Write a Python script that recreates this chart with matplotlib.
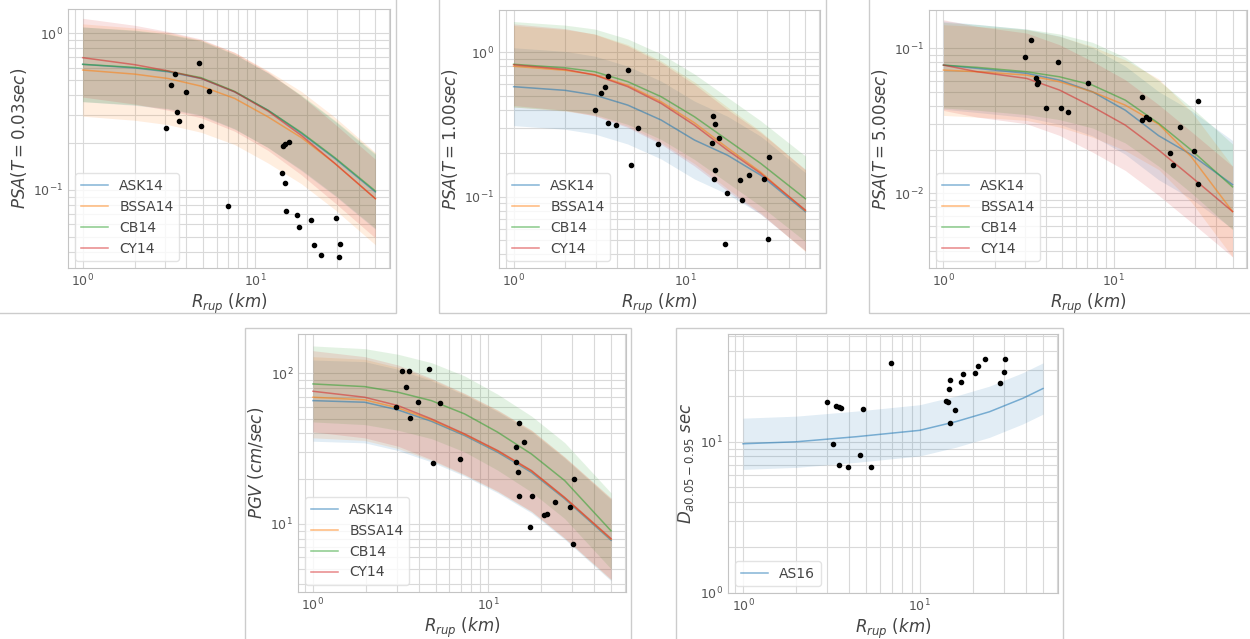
#!/usr/bin/env python
# coding: utf-8

r"""GMM medians (+/- 1 sigma) against recorded intensity measures vs Rrup"""

import numpy as np
import matplotlib.pyplot as plt
from matplotlib.patches import Rectangle

W, H = 1250, 639

models = ['ASK14', 'BSSA14', 'CB14', 'CY14']
colors = ['tab:blue', 'tab:orange', 'tab:green', 'tab:red']

# ---- PSA T = 0.03 s ----
r_psa003 = [1, 2, 3.12, 4.87, 7.62, 11.9, 18.6, 29.1, 50]
psa003_ask = [0.633, 0.600, 0.567, 0.514, 0.422, 0.322, 0.229, 0.158, 0.0966]
psa003_bssa = [0.582, 0.548, 0.514, 0.459, 0.383, 0.292, 0.215, 0.147, 0.0875]
psa003_cb = [0.633, 0.605, 0.572, 0.520, 0.425, 0.322, 0.232, 0.160, 0.098]
psa003_cy = [0.698, 0.630, 0.575, 0.514, 0.422, 0.318, 0.222, 0.147, 0.0875]
psa003_sigma = [0.55, 0.68, 0.55, 0.58]
obs003_r = [4.72, 3.45, 3.27, 3.98, 5.40, 3.54, 3.61, 3.03, 4.89, 14.6, 14.9, 15.8,
            14.4, 14.9, 7.02, 15.2, 17.5, 17.9, 21.1, 29.5, 21.9, 31.3, 24.3, 30.6]
obs003_v = [0.642, 0.549, 0.469, 0.419, 0.425, 0.315, 0.274, 0.247, 0.256, 0.191, 0.197, 0.202,
            0.128, 0.110, 0.079, 0.073, 0.069, 0.058, 0.064, 0.066, 0.044, 0.045, 0.038, 0.037]

# ---- PSA T = 1.00 s ----
r_psa100 = [1, 2, 2.96, 4.62, 7.22, 11.3, 17.6, 27.5, 50]
psa100_ask = [0.578, 0.545, 0.506, 0.431, 0.340, 0.247, 0.194, 0.141, 0.079]
psa100_bssa = [0.80, 0.75, 0.70, 0.59, 0.455, 0.325, 0.218, 0.148, 0.080]
psa100_cb = [0.826, 0.78, 0.734, 0.626, 0.493, 0.358, 0.247, 0.170, 0.097]
psa100_cy = [0.82, 0.76, 0.696, 0.578, 0.443, 0.313, 0.210, 0.145, 0.081]
psa100_sigma = [0.62, 0.65, 0.68, 0.65]
obs100_r = [3.54, 4.62, 3.41, 3.23, 2.98, 3.54, 3.92, 5.28, 6.90, 4.83, 14.4, 14.9,
            15.8, 14.3, 14.9, 14.6, 30.5, 20.8, 23.6, 28.8, 17.5, 21.3, 17.1, 30.1]
obs100_v = [0.685, 0.755, 0.573, 0.520, 0.398, 0.322, 0.312, 0.301, 0.231, 0.167, 0.364, 0.319,
            0.256, 0.234, 0.153, 0.133, 0.188, 0.130, 0.141, 0.133, 0.107, 0.095, 0.047, 0.051]

# ---- PSA T = 5.00 s ----
r_psa500 = [1, 1.58, 3.08, 4.81, 7.51, 11.7, 18.4, 28.6, 50]
psa500_ask = [0.0767, 0.0728, 0.0673, 0.0604, 0.0502, 0.0375, 0.0250, 0.0185, 0.0115]
psa500_bssa = [0.0709, 0.0690, 0.0655, 0.0589, 0.0502, 0.0406, 0.0300, 0.0179, 0.0075]
psa500_cb = [0.0767, 0.0740, 0.0690, 0.0637, 0.0558, 0.0440, 0.0304, 0.0199, 0.0111]
psa500_cy = [0.0767, 0.0690, 0.0621, 0.0516, 0.0396, 0.0296, 0.0199, 0.0130, 0.0075]
psa500_sigma = [0.70, 0.72, 0.68, 0.72]
obs500_r = [3.26, 3.01, 4.69, 3.49, 3.60, 3.54, 7.03, 4.00, 4.90, 5.41,
            14.7, 15.4, 16.2, 14.7, 31.5, 24.5, 21.4, 29.8, 22.4, 31.2]
obs500_v = [0.115, 0.0867, 0.0809, 0.0621, 0.0589, 0.0565, 0.058, 0.039, 0.0386, 0.0362,
            0.0464, 0.0338, 0.0326, 0.032, 0.0434, 0.0286, 0.0189, 0.0197, 0.0157, 0.0116]

# ---- PGV ----
r_pgv = [1, 1.97, 3.05, 4.73, 7.32, 11.3, 17.6, 27.2, 50]
pgv_ask = [65.8, 64.2, 57.1, 48.0, 38.6, 29.9, 22.0, 14.7, 7.8]
pgv_bssa = [69.3, 66.6, 58.9, 49.0, 39.2, 30.4, 22.4, 14.9, 7.9]
pgv_cb = [84.9, 81.5, 74.8, 65.8, 53.7, 40.6, 29.1, 19.4, 9.0]
pgv_cy = [75.9, 69.3, 61.0, 49.8, 39.6, 30.7, 22.6, 15.0, 8.0]
pgv_sigma = [0.62, 0.62, 0.58, 0.62]
obspgv_r = [3.22, 3.51, 4.61, 3.39, 3.95, 5.32, 2.96, 3.57, 4.81, 6.92, 14.9, 15.9,
            14.4, 14.3, 14.7, 15.0, 17.7, 30.9, 23.9, 29.0, 20.7, 21.5, 17.3, 30.3]
obspgv_v = [104, 104, 107, 80.7, 64.9, 63.0, 59.4, 50.8, 25.5, 27.0, 46.6, 35.0,
            32.3, 25.7, 22.2, 15.4, 15.4, 19.9, 13.9, 12.9, 11.5, 11.6, 9.6, 7.4]

# ---- significant duration D5-95 ----
r_dur = [1, 2, 4.38, 10, 16.1, 24.9, 38.5, 50]
dur_as16 = [9.7, 10.0, 10.8, 11.9, 13.6, 15.8, 19.4, 22.5]
dur_sigma = 0.39
obsdur_r = [6.91, 2.99, 3.38, 3.49, 3.57, 4.80, 3.23, 4.62, 3.49, 3.93, 5.28, 14.9, 14.7,
            14.2, 14.5, 15.8, 14.8, 17.1, 17.6, 20.5, 21.4, 23.5, 28.7, 29.9, 30.3]
obsdur_v = [33.0, 18.2, 17.2, 16.9, 16.7, 16.4, 9.66, 8.20, 7.00, 6.83, 6.79, 25.6, 22.5,
            18.6, 18.3, 16.2, 13.4, 25.0, 27.9, 28.7, 31.5, 35.1, 24.3, 29.1, 35.1]


def px_axes(fig, left, top, right, bottom):
    return fig.add_axes([left / W, 1 - bottom / H, (right - left) / W, (bottom - top) / H])


def style(ax, ylabel, ylim):
    ax.set_xscale('log')
    ax.set_yscale('log')
    ax.set_xlim(0.822, 60.8)
    ax.set_ylim(*ylim)
    ax.grid(True, which='both', color='#d9d9d9', lw=0.8)
    ax.set_axisbelow(True)
    for s in ax.spines.values():
        s.set_color('#c4c4c4')
    ax.tick_params(which='both', length=0, labelsize=9, colors='#555555')
    ax.set_xlabel(r'$R_{rup}\ (km)$', fontsize=12, color='#444444', labelpad=2)
    ax.set_ylabel(ylabel, fontsize=12, color='#444444', labelpad=3)


def gmm_panel(ax, r, meds, sigmas, r_obs, v_obs):
    for name, c, med, sig in zip(models, colors, meds, sigmas):
        med = np.array(med)
        ax.fill_between(r, med * np.exp(-sig), med * np.exp(sig), color=c, alpha=0.13, lw=0)
        ax.plot(r, med, color=c, lw=1.1, alpha=0.55, label=name)
    ax.scatter(r_obs, v_obs, s=9, color='k', zorder=3)
    leg = ax.legend(loc='lower left', fontsize=10, labelcolor='#444444', framealpha=0.8)
    leg.get_frame().set_edgecolor('#dddddd')


fig = plt.figure(figsize=(W / 100, H / 100), dpi=100)

# panel frames
for x0, y0, x1, y1 in [(-5, -5, 396, 313), (439, -5, 826, 313), (869, -5, 1260, 313),
                       (245, 328, 631, 650), (676, 328, 1063, 650)]:
    fig.add_artist(Rectangle((x0 / W, 1 - y1 / H), (x1 - x0) / W, (y1 - y0) / H,
                             transform=fig.transFigure, fill=False, ec='#cccccc', lw=1))

ax1 = px_axes(fig, 68, 9, 390, 268)
gmm_panel(ax1, r_psa003, [psa003_ask, psa003_bssa, psa003_cb, psa003_cy], psa003_sigma,
          obs003_r, obs003_v)
style(ax1, r'$PSA(T=0.03sec)$', (0.0315, 1.43))

ax2 = px_axes(fig, 499, 10, 820, 268)
gmm_panel(ax2, r_psa100, [psa100_ask, psa100_bssa, psa100_cb, psa100_cy], psa100_sigma,
          obs100_r, obs100_v)
style(ax2, r'$PSA(T=1.00sec)$', (0.0322, 1.96))

ax3 = px_axes(fig, 929, 10, 1247, 268)
gmm_panel(ax3, r_psa500, [psa500_ask, psa500_bssa, psa500_cb, psa500_cy], psa500_sigma,
          obs500_r, obs500_v)
style(ax3, r'$PSA(T=5.00sec)$', (0.00306, 0.184))

ax4 = px_axes(fig, 298, 334, 626, 592)
gmm_panel(ax4, r_pgv, [pgv_ask, pgv_bssa, pgv_cb, pgv_cy], pgv_sigma, obspgv_r, obspgv_v)
style(ax4, r'$PGV\ (cm/sec)$', (3.54, 182))

ax5 = px_axes(fig, 728, 334, 1058, 593)
dur = np.array(dur_as16)
ax5.fill_between(r_dur, dur * np.exp(-dur_sigma), dur * np.exp(dur_sigma),
                 color='tab:blue', alpha=0.13, lw=0)
ax5.plot(r_dur, dur, color='tab:blue', lw=1.1, alpha=0.55, label='AS16')
ax5.scatter(obsdur_r, obsdur_v, s=9, color='k', zorder=3)
leg = ax5.legend(loc='lower left', fontsize=10, labelcolor='#444444', framealpha=0.8)
leg.get_frame().set_edgecolor('#dddddd')
style(ax5, r'$D_{a0.05-0.95}\ sec$', (1, 51.6))

fig.savefig('out.png', dpi=100)
